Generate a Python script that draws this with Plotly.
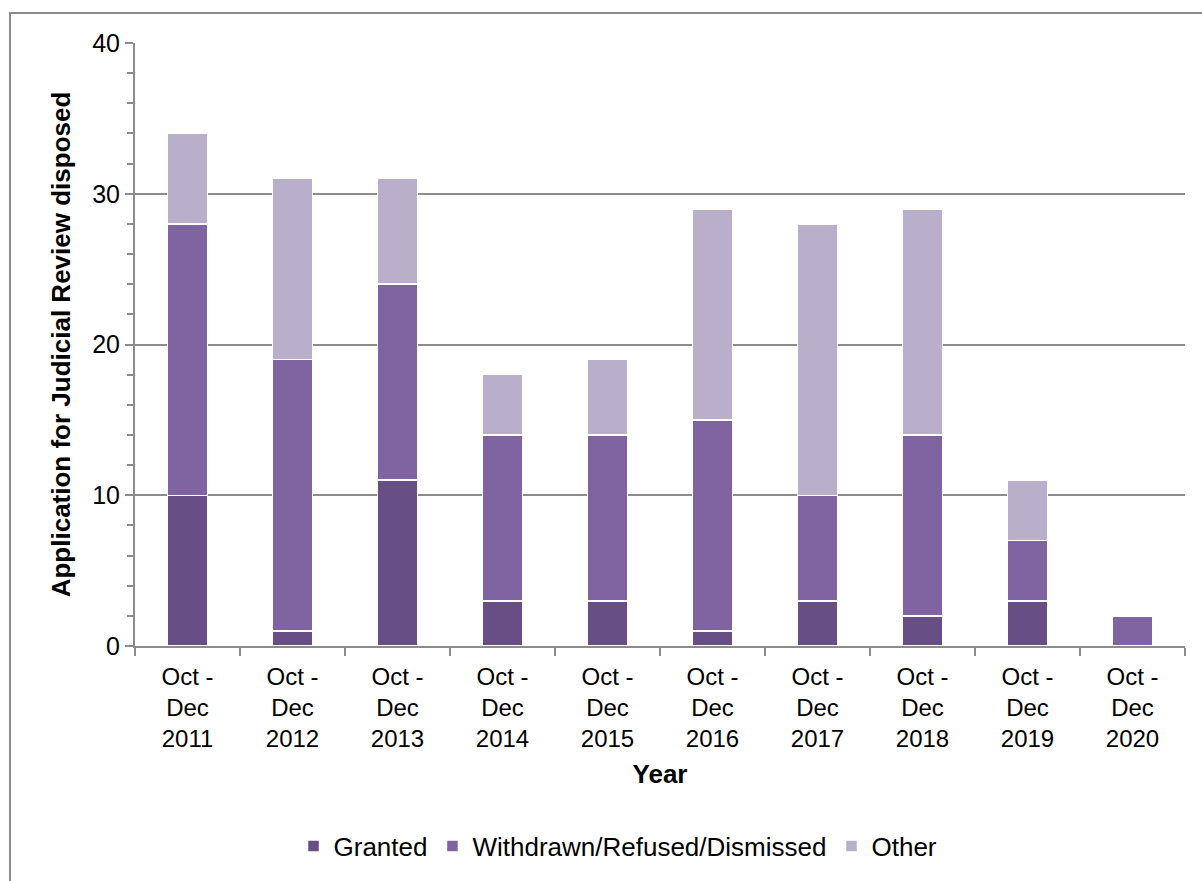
import plotly.graph_objects as go

categories = ["Oct -<br>Dec<br>2011", "Oct -<br>Dec<br>2012", "Oct -<br>Dec<br>2013", "Oct -<br>Dec<br>2014",
              "Oct -<br>Dec<br>2015", "Oct -<br>Dec<br>2016", "Oct -<br>Dec<br>2017", "Oct -<br>Dec<br>2018",
              "Oct -<br>Dec<br>2019", "Oct -<br>Dec<br>2020"]
granted = [10, 1, 11, 3, 3, 1, 3, 2, 3, 0]
withdrawn = [18, 18, 13, 11, 11, 14, 7, 12, 4, 2]
other = [6, 12, 7, 4, 5, 14, 18, 15, 4, 0]

series = [("Granted", granted, "#674f86"),
          ("Withdrawn/Refused/Dismissed", withdrawn, "#8064a2"),
          ("Other", other, "#b9afcb")]

fig = go.Figure()
for name, vals, col in series:
    fig.add_trace(go.Bar(x=categories, y=vals, name=name, marker_color=col,
                         marker_line=dict(color="white", width=1.5)))

font = "Liberation Sans, Arial, sans-serif"
L, R, T, B = 135, 17, 43, 235
W, H = 1202, 881
pw, ph = W - L - R, H - T - B

def px(x): return (x - L) / pw
def py(y): return (H - B - y) / ph

fig.update_layout(
    width=W, height=H, barmode="stack", bargap=0.62,
    margin=dict(l=L, r=R, t=T, b=B, autoexpand=False),
    plot_bgcolor="white", paper_bgcolor="white",
    font=dict(family=font, size=24, color="black"),
    legend=dict(orientation="h", x=0.46, xanchor="center", y=py(846), yanchor="middle",
                font=dict(size=26), itemwidth=30, traceorder="normal"),
    xaxis=dict(title=dict(text="<b>Year</b>", font=dict(size=26), standoff=14),
               showline=True, linecolor="#8c8c8c", linewidth=2,
               ticks="outside", tickson="boundaries", ticklen=8, tickcolor="#8c8c8c", tickwidth=2,
               tickfont=dict(size=24), ticklabelstandoff=8),
    yaxis=dict(title=dict(text="<b>Application for Judicial Review disposed</b>", font=dict(size=26), standoff=14),
               range=[0, 40], dtick=10, showgrid=True, gridcolor="#8c8c8c", gridwidth=2,
               showline=True, linecolor="#8c8c8c", linewidth=2,
               ticks="outside", ticklen=8, tickcolor="#8c8c8c", tickwidth=2,
               minor=dict(dtick=2, ticks="outside", ticklen=6, tickcolor="#8c8c8c", showgrid=False),
               tickfont=dict(size=25), zeroline=False),
    shapes=[dict(type="rect", xref="paper", yref="paper",
                 x0=px(10), x1=px(1215), y0=py(900), y1=py(13),
                 line=dict(color="#8c8c8c", width=2), layer="below")],
)

fig.write_html("out.html", config={"displayModeBar": False},
               post_script="document.body.style.margin='0';")
